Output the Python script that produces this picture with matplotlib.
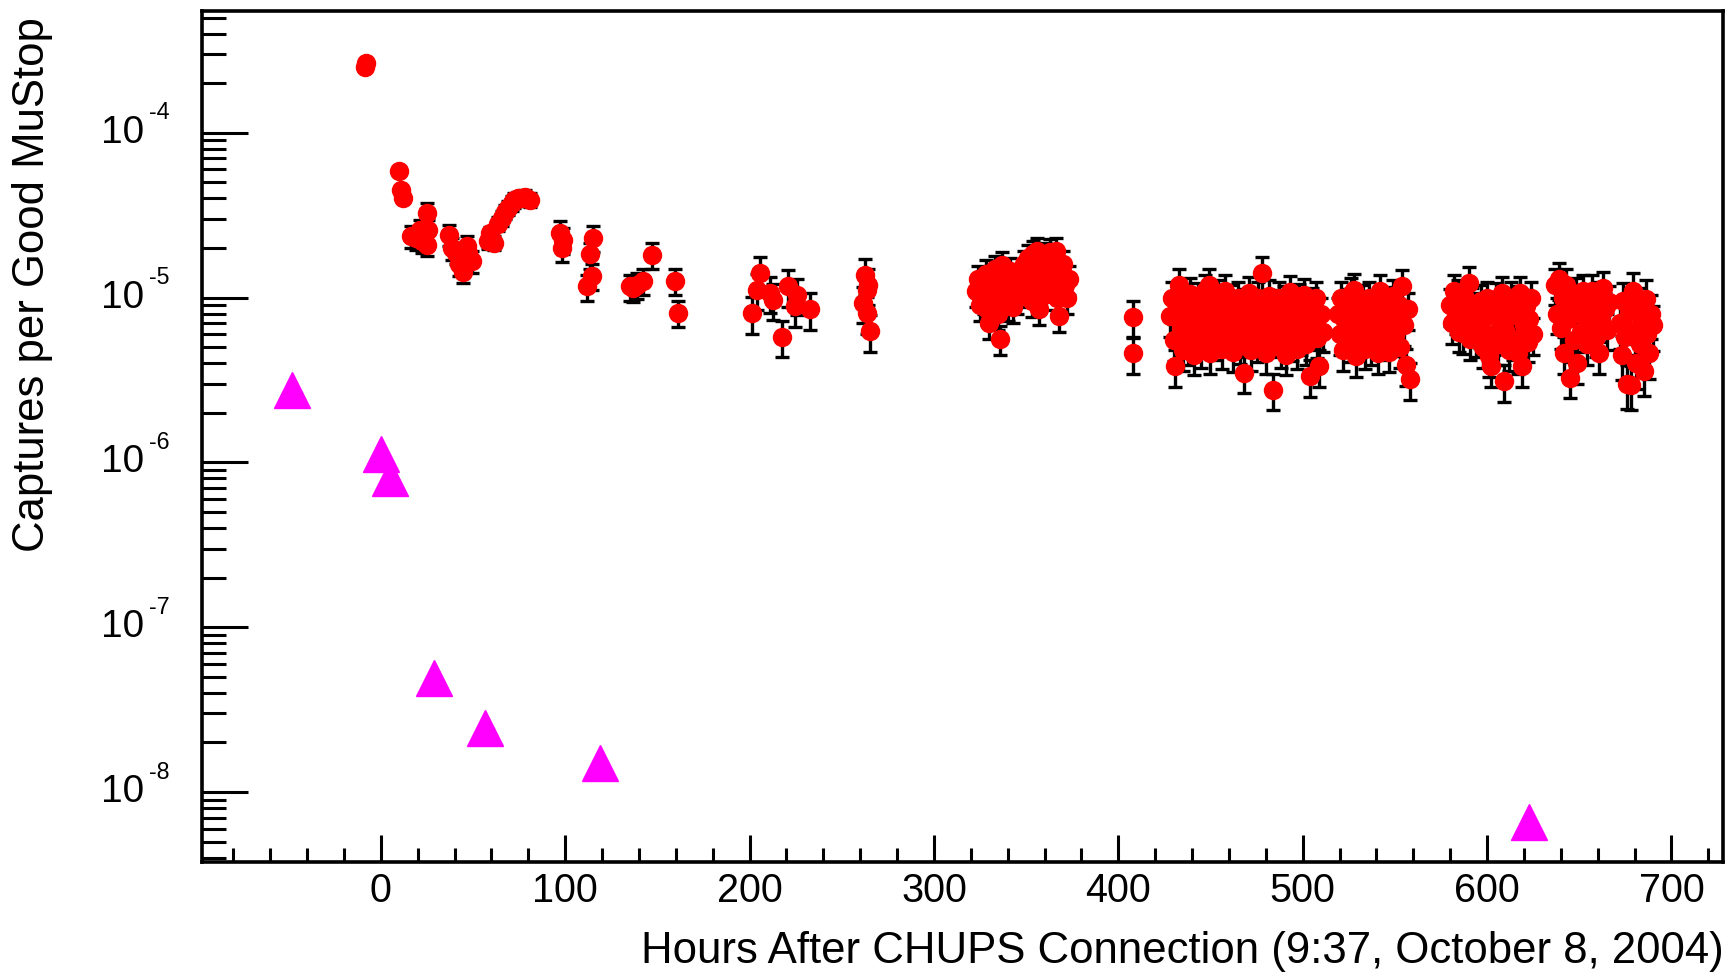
import matplotlib
matplotlib.use("Agg")
import matplotlib.pyplot as plt
from matplotlib import font_manager
from matplotlib.ticker import MultipleLocator, LogLocator, NullFormatter, FixedLocator
import matplotlib.transforms as mtransforms
import numpy as np

# ---------------- data ----------------
tri_hours = [-48.3, 0.0, 4.9, 28.8, 56.4, 118.9, 622.6]
tri_vals = [2.75e-6, 1.13e-6, 8.1e-7, 4.93e-8, 2.44e-8, 1.5e-8, 6.55e-9]

g1_hours = [-8.5, -8.0, 9.9, 11.2, 12.1, 16.6, 19.0, 21.2, 22.5, 24.8, 25.1, 25.7,
            37.1, 38.4, 41.0, 42.5, 44.6, 45.5, 46.5, 47.4, 49.2, 58.0, 59.0, 60.0,
            61.5, 63.5, 65.5, 67.3, 69.0, 70.9, 72.5, 74.5, 76.5, 78.1, 80.8]
g1_vals = [2.5e-4, 2.65e-4, 5.83e-5, 4.52e-5, 4.02e-5, 2.35e-5, 2.3e-5, 2.58e-5, 2.2e-5,
           2.09e-5, 3.26e-5, 2.58e-5, 2.41e-5, 2.0e-5, 1.87e-5, 1.6e-5, 1.44e-5, 1.75e-5,
           2.05e-5, 1.87e-5, 1.66e-5, 2.2e-5, 2.45e-5, 2.3e-5, 2.15e-5, 2.8e-5, 3.04e-5,
           3.33e-5, 3.5e-5, 3.75e-5, 3.9e-5, 4.0e-5, 4.05e-5, 4.1e-5, 3.93e-5]
g1_relerr = [0.03, 0.03, 0.05, 0.05, 0.05, 0.15, 0.15, 0.15, 0.15, 0.15, 0.15, 0.15,
             0.15, 0.15, 0.15, 0.15, 0.15, 0.15, 0.15, 0.15, 0.15, 0.1, 0.1, 0.1,
             0.1, 0.1, 0.1, 0.1, 0.1, 0.1, 0.1, 0.1, 0.1, 0.1, 0.1]

g2_hours = [97.1, 98.0, 98.9, 111.6, 113.4, 114.3, 115.2, 135.1, 137.0, 138.7,
            142.4, 146.9, 159.5, 161.3]
g2_vals = [2.47e-5, 2.0e-5, 2.25e-5, 1.17e-5, 1.83e-5, 1.35e-5, 2.3e-5, 1.17e-5,
           1.15e-5, 1.2e-5, 1.26e-5, 1.82e-5, 1.26e-5, 8.07e-6]
g2_relerr = 0.18

g3_hours = [201.1, 203.8, 205.6, 211.0, 212.9, 217.4, 221.0, 224.6, 225.6, 232.8,
            261.5, 262.6, 263.5, 263.5, 264.0, 265.3]
g3_vals = [8.07e-6, 1.12e-5, 1.41e-5, 1.07e-5, 9.7e-6, 5.8e-6, 1.17e-5, 8.9e-6,
           1.04e-5, 8.5e-6, 9.3e-6, 1.38e-5, 1.12e-5, 8.07e-6, 1.2e-5, 6.25e-6]
g3_relerr = 0.25

g4_hours = [323, 324, 325, 326, 327, 328, 329, 330, 331, 332, 333, 334, 335, 336, 337,
            338, 339, 340, 341, 342, 343, 344, 345, 346,
            348, 349, 350, 351, 352, 353, 354, 355, 356, 357, 358, 359, 360, 361, 362,
            363, 364, 365, 366, 367, 368, 369, 370, 371, 372, 373]
g4_vals = [1.1e-5, 1.3e-5, 9e-6, 1.2e-5, 1.0e-5, 1.4e-5, 8.5e-6, 7e-6, 1.25e-5, 9.5e-6,
           1.5e-5, 1.1e-5, 8e-6, 5.6e-6, 1.58e-5, 1.05e-5, 1.3e-5, 9e-6, 1.45e-5, 1.15e-5,
           8.8e-6, 1.3e-5, 1.0e-5, 1.2e-5,
           1.3e-5, 1.6e-5, 1.1e-5, 1.75e-5, 1.4e-5, 9.5e-6, 1.85e-5, 1.2e-5, 1.91e-5, 8.5e-6,
           1.6e-5, 1.3e-5, 1.8e-5, 1.05e-5, 1.5e-5, 1.9e-5, 1.2e-5, 1.7e-5, 1.91e-5, 1.0e-5,
           7.7e-6, 1.4e-5, 1.6e-5, 1.2e-5, 1.0e-5, 1.3e-5]
g4_relerr = 0.2

g5_hours = [408, 408]
g5_vals = [7.6e-6, 4.6e-6]
g5_relerr = 0.25

g6_hours = list(range(428, 512))
g6_vals = [7.7e-6, 1.0e-5, 5.5e-6, 3.84e-6, 8.5e-6, 1.2e-5, 6.5e-6, 4.8e-6, 9.5e-6, 7.0e-6,
           5.2e-6, 1.05e-5, 8.0e-6, 4.5e-6, 6.0e-6, 9.8e-6, 7.5e-6, 5.0e-6, 8.8e-6, 1.1e-5,
           6.2e-6, 1.2e-5, 4.6e-6, 7.8e-6, 9.2e-6, 5.6e-6, 1.02e-5, 6.8e-6, 4.9e-6, 8.4e-6,
           1.1e-5, 5.9e-6, 7.2e-6, 9.6e-6, 4.7e-6, 8.1e-6, 6.4e-6, 1.0e-5, 5.3e-6, 7.6e-6,
           3.5e-6, 9.0e-6, 6.1e-6, 1.06e-5, 4.8e-6, 8.3e-6, 7.0e-6, 5.4e-6, 9.9e-6, 6.6e-6,
           1.41e-5, 8.6e-6, 4.6e-6, 7.3e-6, 1.03e-5, 5.8e-6, 2.77e-6, 8.9e-6, 6.3e-6, 1.0e-5,
           5.0e-6, 7.9e-6, 9.4e-6, 4.5e-6, 6.9e-6, 1.08e-5, 5.5e-6, 8.2e-6, 7.1e-6, 4.9e-6,
           9.7e-6, 6.0e-6, 8.7e-6, 1.04e-5, 5.2e-6, 7.4e-6, 3.34e-6, 9.1e-6, 6.7e-6, 1.0e-5,
           5.7e-6, 3.84e-6, 8.0e-6, 6.2e-6]
g6_relerr = 0.25

g7_hours = list(range(519, 559))
g7_vals = [8e-6, 6e-6, 1.0e-5, 4.8e-6, 7.2e-6, 9.0e-6, 5.4e-6, 1.05e-5, 6.6e-6, 1.12e-5,
           4.4e-6, 8.4e-6, 5.8e-6, 7.8e-6, 9.5e-6, 4.9e-6, 6.9e-6, 1.0e-5, 5.2e-6, 8.8e-6,
           6.2e-6, 7.5e-6, 4.6e-6, 1.1e-5, 8.1e-6, 5.6e-6, 9.3e-6, 6.5e-6, 4.7e-6, 7.9e-6,
           1.02e-5, 5.9e-6, 7.0e-6, 9.0e-6, 5.0e-6, 1.17e-5, 6.8e-6, 3.9e-6, 8.5e-6, 3.2e-6]
g7_relerr = 0.25

g8_hours = list(range(580, 626))
g8_vals = [9e-6, 7e-6, 1.1e-5, 8e-6, 1.02e-5, 6.2e-6, 8.8e-6, 6.1e-6, 1.0e-5, 7.5e-6,
           1.23e-5, 5.6e-6, 9.2e-6, 7.0e-6, 5.8e-6, 8.5e-6, 6.6e-6, 9.6e-6, 5.0e-6, 7.6e-6,
           1.0e-5, 4.4e-6, 3.84e-6, 8.2e-6, 6.0e-6, 9.8e-6, 5.2e-6, 7.2e-6, 1.07e-5, 3.1e-6,
           6.4e-6, 8.6e-6, 4.8e-6, 1.0e-5, 5.6e-6, 7.8e-6, 9.4e-6, 4.6e-6, 1.07e-5, 3.84e-6,
           6.8e-6, 8.9e-6, 5.4e-6, 7.4e-6, 9.9e-6, 6.0e-6]
g8_relerr = 0.25

g9_hours = list(range(637, 667))
g9_vals = [1.2e-5, 8e-6, 1.29e-5, 6.5e-6, 1.0e-5, 4.6e-6, 1.2e-5, 7.4e-6, 3.26e-6, 9.2e-6,
           5.5e-6, 1.05e-5, 4.0e-6, 8.3e-6, 6.2e-6, 1.1e-5, 7.6e-6, 5.2e-6, 9.6e-6, 6.8e-6,
           1.1e-5, 8.8e-6, 5.8e-6, 1.0e-5, 4.6e-6, 7.2e-6, 1.15e-5, 8.5e-6, 6.4e-6, 9.4e-6]
g9_relerr = 0.25

g10_hours = list(range(672, 691))
g10_vals = [7e-6, 4.5e-6, 9.5e-6, 5.8e-6, 3.0e-6, 8.2e-6, 2.97e-6, 1.09e-5, 6.4e-6, 4.0e-6,
            8.8e-6, 5.2e-6, 7.5e-6, 3.6e-6, 9.8e-6, 6.0e-6, 4.6e-6, 8.0e-6, 6.8e-6]
g10_relerr = 0.3

x_major_ticks = [0, 100, 200, 300, 400, 500, 600, 700]
y_decades = [-4, -5, -6, -7, -8]
x_label = "Hours After CHUPS Connection (9:37, October 8, 2004)"
y_label = "Captures per Good MuStop"

# ---------------- fonts ----------------
names = {f.name for f in font_manager.fontManager.ttflist}
NARROW = ["Liberation Sans Narrow", "Liberation Sans"] if "Liberation Sans Narrow" in names else ["Liberation Sans"]
REG = ["Liberation Sans"]

# ---------------- figure ----------------
W, H = 1733, 977
fig = plt.figure(figsize=(W / 100, H / 100), dpi=100)
ax = fig.add_axes([202 / W, 1 - 862 / H, (1723 - 202) / W, (862 - 11) / H])
ax.set_yscale("log")
ax.set_xlim(-97, 728)
ax.set_ylim(10 ** -8.424, 10 ** -3.261)

groups = [
    (g1_hours, g1_vals, g1_relerr),
    (g2_hours, g2_vals, g2_relerr),
    (g3_hours, g3_vals, g3_relerr),
    (g4_hours, g4_vals, g4_relerr),
    (g5_hours, g5_vals, g5_relerr),
    (g6_hours, g6_vals, g6_relerr),
    (g7_hours, g7_vals, g7_relerr),
    (g8_hours, g8_vals, g8_relerr),
    (g9_hours, g9_vals, g9_relerr),
    (g10_hours, g10_vals, g10_relerr),
]
for h, v, r in groups:
    v = np.asarray(v)
    err = v * np.asarray(r)
    ax.errorbar(h, v, yerr=err, fmt="none", ecolor="black", elinewidth=2.4,
                capsize=4.8, capthick=2.4, zorder=2)
for h, v, r in groups:
    ax.plot(h, v, "o", color="#ff0000", mec="#ff0000", ms=13, zorder=3)

ax.plot(tri_hours, tri_vals, "^", color="#ff00ff", mec="#ff00ff", ms=26, ls="none", zorder=4)

# spines / ticks
for s in ax.spines.values():
    s.set_linewidth(2.6)
ax.xaxis.set_major_locator(FixedLocator(x_major_ticks))
ax.xaxis.set_minor_locator(MultipleLocator(20))
ax.yaxis.set_major_locator(FixedLocator([10.0 ** d for d in y_decades]))
ax.yaxis.set_minor_locator(LogLocator(base=10, subs=np.arange(2, 10), numticks=20))
ax.yaxis.set_major_formatter(NullFormatter())
ax.yaxis.set_minor_formatter(NullFormatter())
ax.tick_params(axis="x", which="major", direction="in", length=19.5, width=2.2, pad=7,
               top=False)
ax.tick_params(axis="x", which="minor", direction="in", length=10, width=2.2, top=False)
ax.tick_params(axis="y", which="major", direction="in", length=33, width=2.2, right=False)
ax.tick_params(axis="y", which="minor", direction="in", length=17, width=2.2, right=False)

renderer = fig.canvas.get_renderer()

def fit_size(txt, target_px):
    txt.set_fontsize(30)
    w = txt.get_window_extent(renderer).width
    txt.set_fontsize(30 * target_px / w)

# fit x tick label size to reference ("100" ~ 66 px wide)
probe = fig.text(0, 0, "100", family=NARROW)
fit_size(probe, 66)
xt_size = probe.get_fontsize()
probe.remove()
ax.set_xticklabels([str(t) for t in x_major_ticks], family=NARROW, fontsize=xt_size)

# y tick labels: "10" with small exponent
ytr = ax.get_yaxis_transform()
probe = fig.text(0, 0, "10", family=REG)
fit_size(probe, 43)
base_size = probe.get_fontsize()
probe.remove()
off = mtransforms.offset_copy(ytr, fig=fig, x=0, y=20 * 0.72, units="points")
for d in y_decades:
    ax.text((144 - 202) / (1723 - 202), 10.0 ** d, "10", transform=ytr,
            ha="right", va="center", family=REG, fontsize=base_size)
    ax.text((149 - 202) / (1723 - 202), 10.0 ** d, "-%d" % (-d), transform=off,
            ha="left", va="center", family=REG, fontsize=base_size * 0.6)

# axis titles
xl = fig.text(1724 / W, 1 - 952 / H, x_label, ha="right", va="center", family=NARROW)
fit_size(xl, 1083)
yl = fig.text(33 / W, 1 - 17 / H, y_label, ha="center", va="top", family=NARROW)
fit_size(yl, 533)
yl.set_rotation(90)

fig.savefig("out.png", dpi=100)
